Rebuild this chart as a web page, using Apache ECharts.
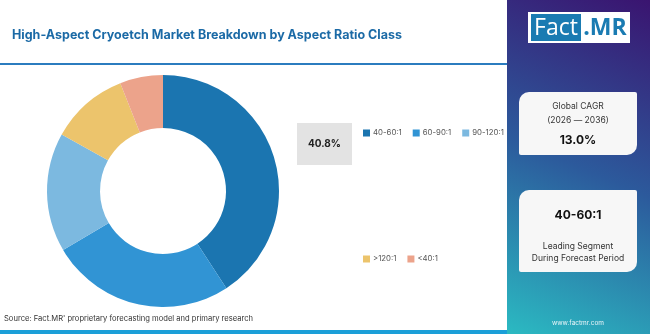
<!DOCTYPE html>
<html>
<head>
<meta charset="utf-8">
<script src="https://cdn.jsdelivr.net/npm/echarts@6/dist/echarts.min.js"></script>
<style>
  html, body { margin: 0; padding: 0; background: #fff; }
  #chart { width: 650px; height: 334px; }
</style>
</head>
<body>
<div id="chart"></div>
<script>
// segments (share, %)
var vaCategories = ["40-60:1", "60-90:1", "90-120:1", ">120:1", "<40:1"];
var vaShares = [40.8, 25.7, 16.6, 10.9, 6.0];
var vaColors = ["#1b75b0", "#3194d4", "#7cb9e0", "#ecc46c", "#eca38b"];
var vaLegendRow1 = ["40-60:1", "60-90:1", "90-120:1"];
var vaLegendRow2 = [">120:1", "<40:1"];

var msTitle = "High-Aspect Cryoetch Market Breakdown by Aspect Ratio Class";
var msSource = "Source: Fact.MR' proprietary forecasting model and primary research";
var msCagr = "13.0%";
var msLeading = "40-60:1";

var FONT = "Inter, 'Noto Sans', sans-serif";

var voChart = echarts.init(document.getElementById("chart"), null, { renderer: "canvas" });

var vaData = vaCategories.map(function(name, i) {
	return { name: name, value: vaShares[i], itemStyle: { color: vaColors[i] } };
});

function legendOf(items, top) {
	return {
		data: items,
		left: 358,
		top: top,
		orient: "horizontal",
		itemWidth: 7,
		itemHeight: 7,
		itemGap: 11,
		icon: "rect",
		textStyle: { fontFamily: FONT, fontSize: 7.8, color: "#555", padding: [0, 0, 0, -2] }
	};
}

var options = {
	animation: false,
	backgroundColor: "#fff",
	title: {
		text: msTitle,
		left: 7,
		top: 24,
		textStyle: { fontFamily: FONT, fontSize: 12.5, fontWeight: "bold", color: "#1b6aa6" }
	},
	legend: [legendOf(vaLegendRow1, 124), legendOf(vaLegendRow2, 250)],
	series: [{
		type: "pie",
		center: [163, 191],
		radius: [63, 116],
		startAngle: 90,
		clockwise: true,
		label: { show: false },
		labelLine: { show: false },
		emphasis: { disabled: true },
		data: vaData
	}],
	graphic: [
		// divider under title
		{ type: "rect", shape: { x: 0, y: 63, width: 507, height: 2 }, style: { fill: "#2b7cbf" } },
		// bottom bar
		{ type: "rect", shape: { x: 0, y: 330, width: 507, height: 4 }, style: { fill: "#1b9fd8" } },
		// source
		{ type: "text", left: 4, top: 315, style: { text: msSource, fontFamily: FONT, fontSize: 7.6, fill: "#333" } },
		// value callout
		{ type: "rect", shape: { x: 297, y: 123, width: 55, height: 42 }, style: { fill: "#e3e3e3" } },
		{ type: "text", x: 324.5, y: 144, style: { text: vaShares[0].toFixed(1) + "%", align: "center", verticalAlign: "middle", fontFamily: FONT, fontSize: 10, fontWeight: "bold", fill: "#222" } },
		// right panel
		{
			type: "rect", shape: { x: 507, y: 0, width: 143, height: 334 },
			style: {
				fill: new echarts.graphic.LinearGradient(1, 0, 0, 1, [
					{ offset: 0, color: "#3a1470" },
					{ offset: 0.5, color: "#2c5a9c" },
					{ offset: 1, color: "#2bbac2" }
				])
			}
		},
		// logo
		{ type: "rect", shape: { x: 528, y: 12, width: 102, height: 31 }, style: { fill: "#fff" } },
		{ type: "rect", shape: { x: 531, y: 14, width: 50, height: 27 }, style: { fill: "#1a7bb2" } },
		{ type: "text", x: 556, y: 28, style: { text: "Fact", align: "center", verticalAlign: "middle", fontFamily: "'Open Sans', sans-serif", fontSize: 23, fill: "#fff" } },
		{ type: "text", x: 605, y: 28, style: { text: ".MR", align: "center", verticalAlign: "middle", fontFamily: "'Open Sans', sans-serif", fontSize: 23, fontWeight: "bold", fill: "#1a7bb2" } },
		// CAGR card
		{ type: "rect", shape: { x: 519, y: 92, width: 118, height: 63, r: [10, 2, 10, 2] }, style: { fill: "#f7f7f7" } },
		{ type: "text", x: 578, y: 106, style: { text: "Global CAGR", align: "center", verticalAlign: "middle", fontFamily: FONT, fontSize: 8.5, fill: "#333" } },
		{ type: "text", x: 578, y: 120, style: { text: "(2026 \u2014 2036)", align: "center", verticalAlign: "middle", fontFamily: FONT, fontSize: 8.5, fill: "#333" } },
		{ type: "text", x: 578, y: 140, style: { text: msCagr, align: "center", verticalAlign: "middle", fontFamily: FONT, fontSize: 12, fontWeight: "bold", fill: "#111" } },
		// leading segment card
		{ type: "rect", shape: { x: 519, y: 190, width: 118, height: 82, r: [10, 2, 10, 2] }, style: { fill: "#f7f7f7" } },
		{ type: "text", x: 578, y: 215, style: { text: msLeading, align: "center", verticalAlign: "middle", fontFamily: FONT, fontSize: 12, fontWeight: "bold", fill: "#111" } },
		{ type: "text", x: 578, y: 246, style: { text: "Leading Segment", align: "center", verticalAlign: "middle", fontFamily: FONT, fontSize: 8.5, fill: "#333" } },
		{ type: "text", x: 578, y: 258, style: { text: "During Forecast Period", align: "center", verticalAlign: "middle", fontFamily: FONT, fontSize: 8.5, fill: "#333" } },
		// site
		{ type: "text", x: 578, y: 323, style: { text: "www.factmr.com", align: "center", verticalAlign: "middle", fontFamily: FONT, fontSize: 6.5, fill: "#e8f4f8" } }
	]
};

voChart.setOption(options);
</script>
</body>
</html>
